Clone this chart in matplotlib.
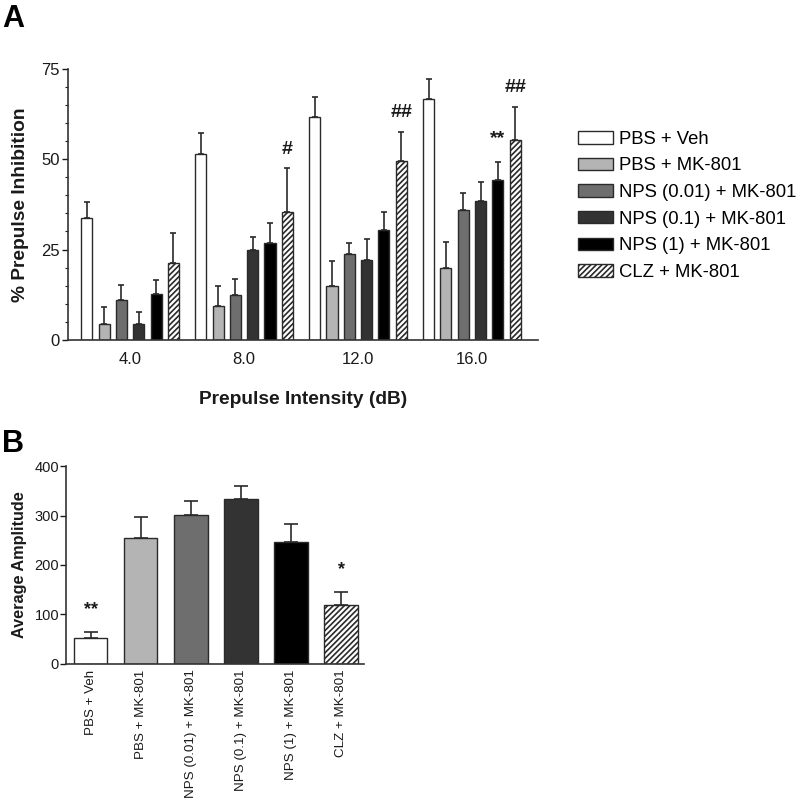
import numpy as np
import matplotlib
matplotlib.use("Agg")
import matplotlib.pyplot as plt
from matplotlib.patches import Patch

plt.rcParams['font.family'] = ['Liberation Sans', 'DejaVu Sans']
plt.rcParams['hatch.linewidth'] = 1.2
plt.rcParams['hatch.color'] = '#111111'

# ---------------- data ----------------
intensities = ["4.0", "8.0", "12.0", "16.0"]
groups = ["PBS + Veh", "PBS + MK-801", "NPS (0.01) + MK-801",
          "NPS (0.1) + MK-801", "NPS (1) + MK-801", "CLZ + MK-801"]

ppi_pbs_veh = [33.8, 51.4, 61.7, 66.7]
ppi_pbs_mk = [4.5, 9.4, 14.9, 20.0]
ppi_nps001 = [11.0, 12.3, 23.8, 35.8]
ppi_nps01 = [4.4, 24.8, 22.2, 38.5]
ppi_nps1 = [12.8, 26.9, 30.5, 44.2]
ppi_clz = [21.2, 35.4, 49.4, 55.2]

err_pbs_veh = [4.3, 5.7, 5.5, 5.3]
err_pbs_mk = [4.7, 5.6, 6.9, 7.0]
err_nps001 = [4.2, 4.5, 3.1, 4.7]
err_nps01 = [3.4, 3.7, 5.8, 5.2]
err_nps1 = [3.8, 5.3, 4.8, 5.0]
err_clz = [8.5, 12.0, 8.1, 9.1]

# significance marks in panel A: (intensity index, group index, text)
marks_a = [(1, 5, "#"), (2, 5, "##"), (3, 5, "##"), (3, 4, "**")]

amplitude = [52, 255, 301, 334, 246, 119]
amplitude_err = [13, 41, 28, 25, 36, 26]
marks_b = [(0, "**"), (5, "*")]

ppi_vals = [ppi_pbs_veh, ppi_pbs_mk, ppi_nps001, ppi_nps01, ppi_nps1, ppi_clz]
ppi_errs = [err_pbs_veh, err_pbs_mk, err_nps001, err_nps01, err_nps1, err_clz]

# ---------------- styles ----------------
faces = ['white', '#b4b4b4', '#6e6e6e', '#333333', '#000000', 'white']
hatches = [None, None, None, None, None, '//////']
edge = '#2a2a2a'
txtc = '#1a1a1a'

fig = plt.figure(figsize=(8.0, 7.98), dpi=100)

# ---------------- Panel A ----------------
axA = fig.add_axes([0.085, 0.574, 0.5875, 0.340])
x = np.arange(len(intensities))
step = 0.152
width = 0.097
for i, (vals, errs) in enumerate(zip(ppi_vals, ppi_errs)):
    pos = x + (i - 2.5) * step
    axA.bar(pos, vals, width=width, color=faces[i], edgecolor=edge,
            linewidth=1.0, hatch=hatches[i], zorder=2)
    axA.errorbar(pos, vals, yerr=[np.zeros(len(vals)), errs], fmt='none',
                 ecolor=edge, elinewidth=1.2, capsize=2.5, capthick=1.2, zorder=3)

for gi, si, t in marks_a:
    px = x[gi] + (si - 2.5) * step
    top = ppi_vals[si][gi] + ppi_errs[si][gi]
    off = 14 if t != "**" else 17
    axA.annotate(t, (px, top), xytext=(0, off), textcoords='offset points',
                 ha='center', va='center', fontsize=14, fontweight='bold', color=txtc)

axA.set_xlim(-0.545, 3.58)
axA.set_ylim(0, 75)
axA.set_yticks([0, 25, 50, 75])
axA.set_yticks(np.arange(0, 76, 5), minor=True)
axA.set_xticks(x)
axA.set_xticklabels(intensities)
axA.tick_params(axis='x', length=0, pad=9, labelsize=12, colors=txtc)
axA.tick_params(axis='y', which='major', length=4, width=1, labelsize=12, colors=txtc, pad=2)
axA.tick_params(axis='y', which='minor', length=2.5, width=0.8, colors=txtc)
for s in ['top', 'right']:
    axA.spines[s].set_visible(False)
for s in ['left', 'bottom']:
    axA.spines[s].set_color('#333333')
    axA.spines[s].set_linewidth(1.2)
axA.set_ylabel("% Prepulse Inhibition", fontsize=13.8, fontweight='bold', color=txtc, labelpad=9)
axA.set_xlabel("Prepulse Intensity (dB)", fontsize=13.8, fontweight='bold', color=txtc, labelpad=17)

handles = [Patch(facecolor=faces[i], edgecolor=edge, hatch=hatches[i], linewidth=1.0)
           for i in range(len(groups))]
fig.legend(handles, groups, loc='upper left', bbox_to_anchor=(0.723, 0.836),
           frameon=False, fontsize=13.3, handlelength=1.9, handleheight=0.66,
           handletextpad=0.3, labelspacing=0.52, borderaxespad=0, borderpad=0)

fig.text(0.003, 0.995, "A", fontsize=22, fontweight='bold', va='top', ha='left', color='black')
fig.text(0.003, 0.462, "B", fontsize=22, fontweight='bold', va='top', ha='left', color='black')

# ---------------- Panel B ----------------
axB = fig.add_axes([0.0825, 0.168, 0.372, 0.248])
xb = np.arange(len(groups))
axB.bar(xb, amplitude, width=0.67, color=faces, edgecolor=edge, linewidth=1.0, zorder=2)
for b, h in zip(axB.patches, hatches):
    if h:
        b.set_hatch(h)
axB.errorbar(xb, amplitude, yerr=[np.zeros(len(amplitude)), amplitude_err], fmt='none',
             ecolor=edge, elinewidth=1.2, capsize=5, capthick=1.2, zorder=3)
for gi, t in marks_b:
    axB.annotate(t, (xb[gi], amplitude[gi] + amplitude_err[gi]), xytext=(0, 16),
                 textcoords='offset points', ha='center', va='center',
                 fontsize=13, fontweight='bold', color=txtc)
axB.set_xlim(-0.49, 5.45)
axB.set_ylim(0, 400)
axB.set_yticks([0, 100, 200, 300, 400])
axB.set_xticks(xb)
axB.set_xticklabels(groups, rotation=90)
axB.tick_params(axis='x', length=0, pad=4, labelsize=9.6, colors=txtc)
axB.tick_params(axis='y', length=4, width=1, labelsize=10.5, colors=txtc, pad=1)
for s in ['top', 'right']:
    axB.spines[s].set_visible(False)
for s in ['left', 'bottom']:
    axB.spines[s].set_color('#333333')
    axB.spines[s].set_linewidth(1.2)
axB.set_ylabel("Average Amplitude", fontsize=11.7, fontweight='bold', color=txtc, labelpad=5)

fig.savefig("out.png", dpi=100)
